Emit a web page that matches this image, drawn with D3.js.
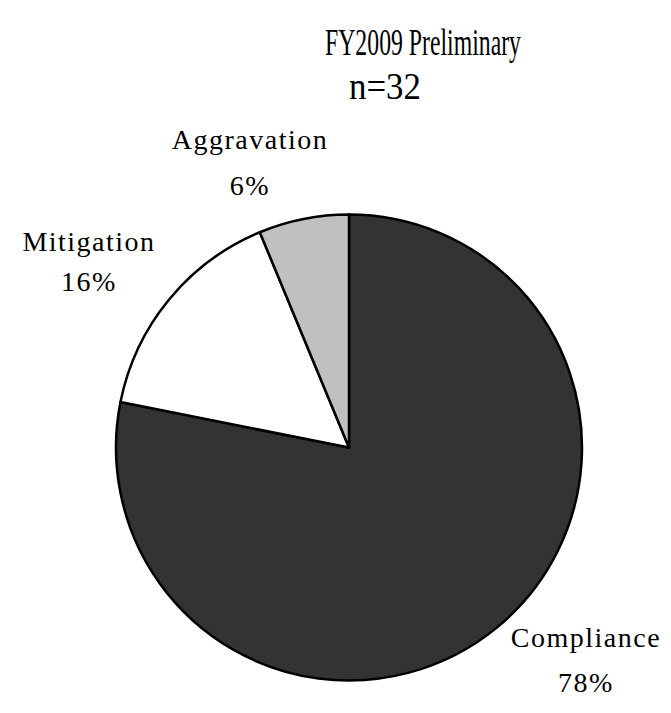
<!DOCTYPE html>
<html><head><meta charset="utf-8">
<script src="https://cdn.jsdelivr.net/npm/d3@7"></script>
<style>html,body{margin:0;padding:0;background:#fff;}</style>
</head><body>
<svg id="chart" width="671" height="713"></svg>
<script>
const categories = ["Compliance", "Mitigation", "Aggravation"];
const counts = [25, 5, 2];
const percentLabels = ["78%", "16%", "6%"];
const titleLines = ["FY2009 Preliminary", "n=32"];

const colors = ["#333333", "#ffffff", "#c0c0c0"];
const svg = d3.select("#chart");
const cx = 349, cy = 447.5, r = 233;

const data = categories.map((c, i) => ({cat: c, value: counts[i], pct: percentLabels[i], color: colors[i]}));
const pie = d3.pie().value(d => d.value).sort(null);
const arc = d3.arc().innerRadius(0).outerRadius(r);
const g = svg.append("g").attr("transform", `translate(${cx},${cy})`);
g.selectAll("path").data(pie(data)).join("path")
  .attr("d", arc).attr("fill", d => d.data.color)
  .attr("stroke", "#000").attr("stroke-width", 2.5).attr("stroke-linejoin", "round");

const font = "'Liberation Serif', 'Times New Roman', serif";
svg.append("text").attr("x", 423).attr("y", 55).attr("text-anchor", "middle")
  .attr("font-family", font).attr("font-size", 38)
  .attr("textLength", 196).attr("lengthAdjust", "spacingAndGlyphs")
  .text(titleLines[0]);
svg.append("text").attr("x", 385).attr("y", 99).attr("text-anchor", "middle")
  .attr("font-family", font).attr("font-size", 37)
  .attr("textLength", 72).attr("lengthAdjust", "spacingAndGlyphs")
  .text(titleLines[1]);

const labelPos = {
  "Compliance": {x: 586, y1: 647, y2: 692},
  "Mitigation": {x: 89, y1: 251, y2: 291},
  "Aggravation": {x: 250, y1: 149, y2: 195}
};
data.forEach(d => {
  const p = labelPos[d.cat];
  svg.append("text").attr("x", p.x).attr("y", p.y1).attr("text-anchor", "middle")
    .attr("font-family", font).attr("font-size", 28).attr("letter-spacing", 1.5)
    .text(d.cat);
  svg.append("text").attr("x", p.x).attr("y", p.y2).attr("text-anchor", "middle")
    .attr("font-family", font).attr("font-size", 28).attr("letter-spacing", 1.5)
    .text(d.pct);
});
</script>
</body></html>
